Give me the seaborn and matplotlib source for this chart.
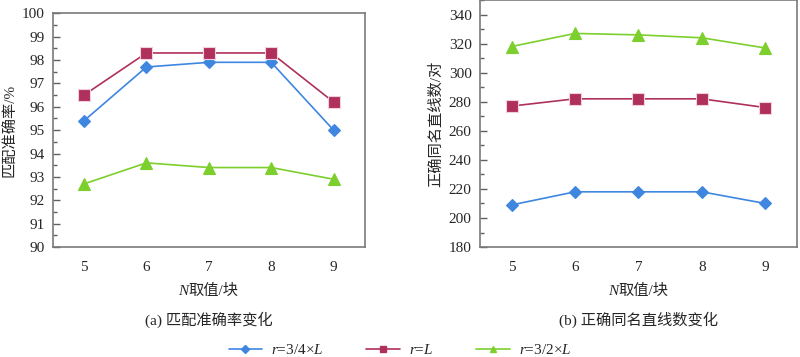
import matplotlib
matplotlib.use('Agg')
import matplotlib.pyplot as plt
from matplotlib.lines import Line2D
import numpy as np
import pandas as pd
import seaborn as sns
from matplotlib.ticker import MultipleLocator, FixedLocator

# data
n_values = [5, 6, 7, 8, 9]
series_names = ['$r$=3/4×$L$', '$r$=$L$', '$r$=3/2×$L$']

acc_34 = [95.4, 97.7, 97.9, 97.9, 95.0]
acc_1 = [96.5, 98.3, 98.3, 98.3, 96.2]
acc_32 = [92.7, 93.6, 93.4, 93.4, 92.9]

cnt_34 = [209, 218, 218, 218, 210]
cnt_1 = [277, 282, 282, 282, 276]
cnt_32 = [318, 327, 326, 324, 317]

colors = ['#3e86e0', '#b0305c', '#7ccf2c']
markers = ['D', 's', '^']
msizes = [6.5, 8, 8.5]

sns.set_style('white')
plt.rcParams['font.family'] = ['Liberation Serif', 'Noto Sans CJK SC']
plt.rcParams['mathtext.fontset'] = 'custom'
plt.rcParams['mathtext.rm'] = 'Liberation Serif'
plt.rcParams['mathtext.it'] = 'Liberation Serif:italic'
plt.rcParams['font.size'] = 11


def long_df(cols):
    rows = []
    for name, vals in zip(series_names, cols):
        for n, v in zip(n_values, vals):
            rows.append({'N': n, 'value': v, 'series': name})
    return pd.DataFrame(rows)


df_a = long_df([acc_34, acc_1, acc_32])
df_b = long_df([cnt_34, cnt_1, cnt_32])

fig = plt.figure(figsize=(8, 3.57), dpi=100)
ax1 = fig.add_axes([0.066, 0.308, 0.39, 0.655])
ax2 = fig.add_axes([0.6, 0.308, 0.396, 0.692])


def draw(ax, df, ylim, major, minor, ylabel, caption, xl_y, cap_y):
    for name, c, m, ms in zip(series_names, colors, markers, msizes):
        sub = df[df['series'] == name]
        sns.lineplot(data=sub, x='N', y='value', ax=ax, color=c, marker=m,
                     markersize=ms, markeredgecolor='#f0d0e0' if m == 's' else c,
                     markeredgewidth=0.8, linewidth=1.2, legend=False)
    ax.set_xlim(4.5, 9.5)
    ax.set_ylim(*ylim)
    ax.xaxis.set_major_locator(FixedLocator(n_values))
    ax.xaxis.set_minor_locator(FixedLocator([5.5, 6.5, 7.5, 8.5]))
    ax.yaxis.set_major_locator(MultipleLocator(major))
    ax.yaxis.set_minor_locator(MultipleLocator(minor))
    ax.tick_params(axis='x', which='major', length=0, pad=10, labelsize=11)
    ax.tick_params(axis='x', which='minor', direction='in', length=5,
                   width=1.2, color='#606060')
    ax.tick_params(axis='y', which='major', direction='in', length=5,
                   width=1, color='#606060', pad=6, labelsize=11, left=True)
    ax.tick_params(axis='y', which='minor', direction='in', length=3,
                   width=1, color='#606060', left=True)
    for sp in ax.spines.values():
        sp.set_color('#7a7a7a')
        sp.set_linewidth(1.2)
    ax.set_xlabel('')
    ax.set_ylabel(ylabel, fontsize=11, labelpad=4)
    # x label: italic N followed by CJK text
    t = ax.text(0.515, xl_y, '取值/块', transform=ax.transAxes,
                ha='center', va='center', fontsize=11)
    ax.annotate('N', xy=(0, 0.5), xycoords=t, ha='right', va='center',
                fontsize=11, fontstyle='italic')
    ax.text(0.5, cap_y, caption, transform=ax.transAxes,
            ha='center', va='center', fontsize=11)


draw(ax1, df_a, (90, 100), 1, 0.5, '匹配准确率/%', '(a) 匹配准确率变化',
     -0.188, -0.312)
draw(ax2, df_b, (180, 350), 20, 10, '正确同名直线数/对', '(b) 正确同名直线数变化',
     -0.178, -0.296)
ax2.set_yticks([180, 200, 220, 240, 260, 280, 300, 320, 340])

handles = [Line2D([], [], color=c, marker=m, markersize=4, linewidth=1.2,
                  markeredgecolor=c) for c, m in zip(colors, markers)]
fig.legend(handles, series_names, loc='center', bbox_to_anchor=(0.5, 0.02),
           ncol=3, frameon=False, fontsize=11, handlelength=2.2,
           columnspacing=2.8, handletextpad=0.6)

fig.savefig('out.png', dpi=100)
